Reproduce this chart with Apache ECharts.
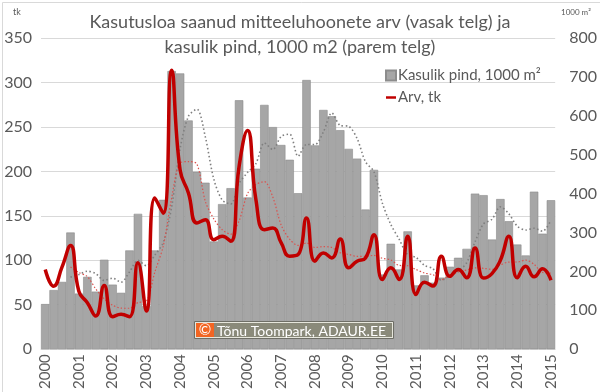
<!DOCTYPE html>
<html>
<head>
<meta charset="utf-8">
<script src="https://cdn.jsdelivr.net/npm/echarts@6/dist/echarts.min.js"></script>
<style>html,body{margin:0;padding:0;background:#fff}#c{width:600px;height:392px}</style>
</head>
<body>
<div id="c"></div>
<script>
// Tick labels (years) – each year has four quarters; 2015 only Q1
var years = ['2000','2001','2002','2003','2004','2005','2006','2007','2008','2009','2010','2011','2012','2013','2014','2015'];
var quarters = ['I','II','III','IV'];
// Kasulik pind, 1000 m2 (right axis), quarterly 2000 Q1 .. 2015 Q1
var pind = [116,152,173,300, 143,186,148,230, 166,145,254,348, 111,254,384,715,
            709,588,456,428, 277,373,414,640, 390,464,628,571, 525,487,401,692,
            524,615,599,563, 515,490,359,461, 192,271,205,303, 164,190,171,184,
            212,235,258,400, 396,282,386,329, 269,241,405,297, 383];
// Arv, tk (left axis)
var arv = [89.6,70.9,92.6,116.5, 65,52.3,37.3,71.7, 36.6,39.2,36.6,97.1, 42.9,170,153,313.7,
           201.7,175.5,141.9,145.6, 123.2,127,121.3,205.4, 246,168,134.4,136.3, 119.5,104.6,106.4,147.5,
           99,108.3,102.7,124, 91.5,99,102.7,128.8, 78.4,91.5,78.4,127, 61.6,75.4,71,104.5,
           82,89.6,80.3,113.9, 80,85,100,127, 80.3,93.3,81.4,90.4, 77.6];
var leftTicks = {min:0, max:350, step:50};
var rightTicks = {min:0, max:800, step:100};

var categories = [];
for (var i = 0; i < pind.length; i++) {
  categories.push(years[Math.floor(i/4)] + ' ' + quarters[i%4]);
}
// 4-period moving average trendlines (as in the original chart)
function movAvg(a, n) {
  var out = [];
  for (var i = 0; i < a.length; i++) {
    if (i < n - 1) { out.push('-'); continue; }
    var s = 0; for (var k = 0; k < n; k++) s += a[i-k];
    out.push(+(s/n).toFixed(2));
  }
  return out;
}
var pindMA = movAvg(pind, 4);
var arvMA = movAvg(arv, 4);

var FONT = 'Lato';
var TXT = '#595959';
var chart = echarts.init(document.getElementById('c'), null, {renderer:'canvas'});
chart.setOption({
  animation: false,
  backgroundColor: '#fff',
  textStyle: {fontFamily: FONT},
  title: {
    text: 'Kasutusloa saanud mitteeluhoonete arv (vasak telg) ja\nkasulik pind, 1000 m2 (parem telg)',
    left: 'center', top: 5,
    textStyle: {fontFamily: FONT, fontSize: 18, fontWeight: 'normal', color: TXT, lineHeight: 25}
  },
  legend: {
    orient: 'vertical', left: 380, top: 63, itemGap: 7,
    itemWidth: 10, itemHeight: 10,
    textStyle: {fontFamily: FONT, fontSize: 15, color: TXT, padding: [0,0,0,-3]},
    data: [
      {name: 'Kasulik pind, 1000 m²', icon: 'rect'},
      {name: 'Arv, tk', icon: 'path://M0,0L12,0L12,3L0,3Z'}
    ]
  },
  grid: {left: 41, right: 41, top: 38, bottom: 42},
  xAxis: {
    type: 'category', data: categories, boundaryGap: true,
    axisLine: {show: true, lineStyle: {color: '#d9d9d9'}},
    axisTick: {show: false},
    axisLabel: {
      interval: 3, rotate: 90, margin: 5,
      fontFamily: FONT, fontSize: 15, color: TXT,
      formatter: function (v) { return v.split(' ')[0]; }
    }
  },
  yAxis: [
    {
      type: 'value', min: leftTicks.min, max: leftTicks.max, interval: leftTicks.step,
      axisLine: {show: false}, axisTick: {show: false},
      splitLine: {lineStyle: {color: '#d9d9d9', width: 1}},
      axisLabel: {fontFamily: FONT, fontSize: 16, color: TXT, margin: 9}
    },
    {
      type: 'value', min: rightTicks.min, max: rightTicks.max, interval: rightTicks.step,
      axisLine: {show: false}, axisTick: {show: false},
      splitLine: {show: false},
      axisLabel: {fontFamily: FONT, fontSize: 16, color: TXT, margin: 14}
    }
  ],
  series: [
    {
      name: 'Kasulik pind, 1000 m²', type: 'bar', yAxisIndex: 1, data: pind,
      barCategoryGap: '0%',
      itemStyle: {color: '#a6a6a6', borderColor: '#8c8c8c', borderWidth: 0.6}
    },
    {
      name: 'pindMA', type: 'line', yAxisIndex: 1, data: pindMA,
      smooth: 0.3, symbol: 'none',
      lineStyle: {color: '#7f7f7f', width: 1.6, type: [1.5, 2.5]}
    },
    {
      name: 'arvMA', type: 'line', yAxisIndex: 0, data: arvMA,
      smooth: 0.3, symbol: 'none',
      lineStyle: {color: '#d9534f', width: 1.2, type: [1.5, 2]}
    },
    {
      name: 'Arv, tk', type: 'line', yAxisIndex: 0, data: arv,
      smooth: 0.5, symbol: 'none',
      itemStyle: {color: '#c00000'},
      lineStyle: {color: '#c00000', width: 3.5}
    }
  ],
  graphic: [
    {type: 'rect', left: 0, top: 0, z: -10, silent: true,
     shape: {x: 0.5, y: 0.5, width: 599, height: 391},
     style: {fill: 'none', stroke: '#d9d9d9', lineWidth: 1}},
    {type: 'text', left: 13, top: 8, style: {text: 'tk', font: '9px ' + FONT, fill: TXT}},
    {type: 'text', left: 561, top: 8, style: {text: '1000 m²', font: '8px ' + FONT, fill: TXT}},
    {type: 'rect', z: 100, shape: {x: 194.5, y: 321.5, width: 199, height: 17},
     style: {fill: '#e6e6dc', stroke: '#6e6e66', lineWidth: 1}},
    {type: 'rect', z: 101, shape: {x: 196, y: 323, width: 18, height: 14}, style: {fill: '#f26522'}},
    {type: 'rect', z: 101, shape: {x: 214, y: 323, width: 178, height: 14}, style: {fill: '#8a8a7a'}},
    {type: 'text', z: 102, style: {x: 205, y: 330.5, text: '©', font: '15px ' + FONT, fill: '#fff', align: 'center', verticalAlign: 'middle'}},
    {type: 'text', z: 102, style: {x: 217, y: 331, text: 'Tõnu Toompark, ADAUR.EE', font: '14px ' + FONT, fill: '#fff', verticalAlign: 'middle'}}
  ]
});
</script>
</body>
</html>
